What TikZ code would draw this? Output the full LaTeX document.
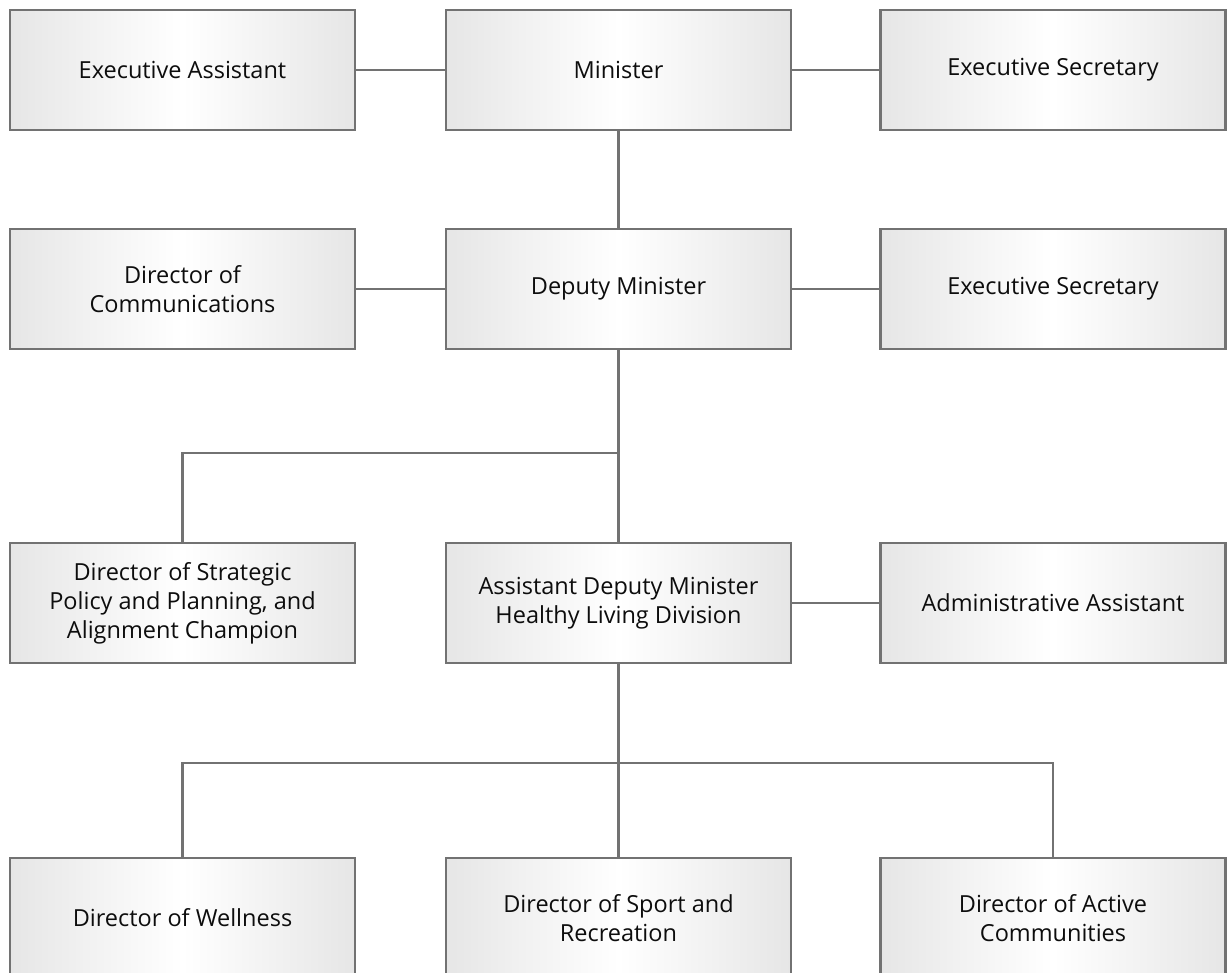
\documentclass[tikz,border=0pt]{standalone}
\usepackage{fontspec}
\setmainfont{Open Sans}
\usepackage{tikz}
\usetikzlibrary{positioning,calc}
\definecolor{orgEdge}{HTML}{727272}
\definecolor{orgShade}{HTML}{E6E6E6}
\definecolor{orgText}{HTML}{0D0D0D}
\tikzset{
  orgbox/.style={draw=orgEdge,line width=2.6pt,left color=orgShade,right color=orgShade,
                 middle color=white,text=orgText,minimum width=345pt,minimum height=120pt,
                 align=center,inner sep=0pt,font=\fontsize{23.5}{29}\selectfont},
  orglink/.style={draw=orgEdge,line width=2.6pt},
}
\begin{document}
\begin{tikzpicture}[x=1pt,y=-1pt]
  \useasboundingbox (0,0) rectangle (1230,972);
  \clip (0,0) rectangle (1230,972);
  % top row
  \node[orgbox] (EA) at (182.5,70) {Executive Assistant};
  \node[orgbox] (M) at (618.5,70) {Minister};
  \node[orgbox] (ES1) at (1053,70) {Executive Secretary};
  % deputy row
  \node[orgbox] (DC) at (182.5,289) {Director of\\Communications};
  \node[orgbox] (DM) at (618.5,289) {Deputy Minister};
  \node[orgbox] (ES2) at (1053,289) {Executive Secretary};
  % assistant deputy row
  \node[orgbox] (DSP) at (182.5,603) {Director of Strategic\\Policy and Planning, and\\Alignment Champion};
  \node[orgbox] (ADM) at (618.5,603) {Assistant Deputy Minister\\Healthy Living Division};
  \node[orgbox] (AA) at (1053,603) {Administrative Assistant};
  % directors
  \node[orgbox] (DW) at (182.5,918) {Director of Wellness};
  \node[orgbox] (DSR) at (618.5,918) {Director of Sport and\\Recreation};
  \node[orgbox] (DAC) at (1053,918) {Director of Active\\Communities};

  \coordinate (J1) at (618.5,453);
  \coordinate (J2) at (618.5,763);

  \draw[orglink] (EA)--(M);
  \draw[orglink] (M)--(ES1);
  \draw[orglink] (M)--(DM);
  \draw[orglink] (DC)--(DM);
  \draw[orglink] (DM)--(ES2);
  \draw[orglink] (DM)--(ADM);
  \draw[orglink] (J1)-|(DSP);
  \draw[orglink] (ADM)--(AA);
  \draw[orglink] (ADM)--(DSR);
  \draw[orglink] (J2)-|(DW);
  \draw[orglink] (J2)-|(DAC);
\end{tikzpicture}
\end{document}
